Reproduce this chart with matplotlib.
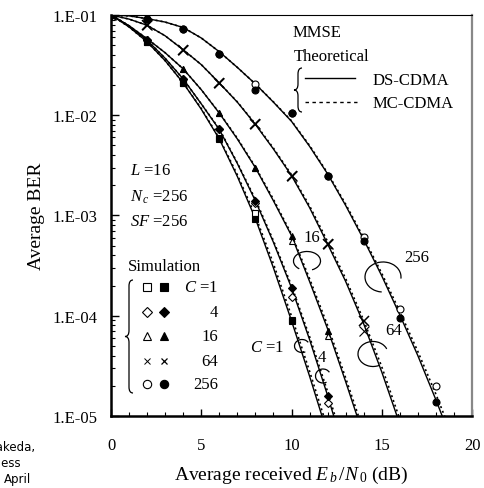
import matplotlib
matplotlib.use('Agg')
import matplotlib.pyplot as plt
from matplotlib.patches import Arc, PathPatch
from matplotlib.path import Path
from matplotlib.lines import Line2D
from matplotlib.ticker import MultipleLocator, LogLocator, NullFormatter

plt.rcParams['font.family'] = ['Liberation Serif', 'DejaVu Serif']
plt.rcParams['mathtext.fontset'] = 'custom'
plt.rcParams['mathtext.rm'] = 'Liberation Serif'
plt.rcParams['mathtext.it'] = 'Liberation Serif:italic'

# ---- data ----
users = [1, 4, 16, 64, 256]

# theoretical curves, Eb/N0 = 0, 1, 2, ... dB
ds_c1 = [1.0e-1, 7.6e-2, 5.4e-2, 3.5e-2, 2.1e-2, 1.15e-2, 5.8e-3, 2.45e-3, 9.3e-4, 3.0e-4, 8.9e-5, 2.5e-5, 6.6e-6]
ds_c4 = [1.0e-1, 7.8e-2, 5.6e-2, 3.7e-2, 2.3e-2, 1.3e-2, 7.2e-3, 3.3e-3, 1.4e-3, 5.4e-4, 1.9e-4, 5.8e-5, 1.6e-5, 4.0e-6]
ds_c16 = [1.0e-1, 7.8e-2, 5.8e-2, 4.2e-2, 2.9e-2, 1.8e-2, 1.05e-2, 5.8e-3, 3.0e-3, 1.4e-3, 6.3e-4, 2.2e-4, 7.4e-5, 2.2e-5, 6.3e-6]
ds_c64 = [1.0e-1, 9.1e-2, 7.9e-2, 6.2e-2, 4.5e-2, 3.2e-2, 2.1e-2, 1.35e-2, 8.1e-3, 4.6e-3, 2.5e-3, 1.2e-3, 5.2e-4, 2.2e-4, 8.3e-5, 2.75e-5, 8.3e-6]
ds_c256 = [1.0e-1, 9.8e-2, 9.2e-2, 8.5e-2, 7.5e-2, 5.9e-2, 4.3e-2, 3.0e-2, 2.05e-2, 1.35e-2, 8.7e-3, 4.9e-3, 2.6e-3, 1.26e-3, 5.75e-4, 2.5e-4, 1.02e-4, 4.0e-5, 1.45e-5, 5.0e-6]

mc_c1 = [1.0e-1, 7.6e-2, 5.4e-2, 3.5e-2, 2.1e-2, 1.17e-2, 5.9e-3, 2.55e-3, 9.9e-4, 3.3e-4, 9.9e-5, 2.8e-5, 7.5e-6]
mc_c4 = [1.0e-1, 7.8e-2, 5.6e-2, 3.7e-2, 2.3e-2, 1.3e-2, 7.3e-3, 3.35e-3, 1.45e-3, 5.6e-4, 2.0e-4, 6.2e-5, 1.75e-5, 4.5e-6]
mc_c16 = [1.0e-1, 7.8e-2, 5.8e-2, 4.2e-2, 2.9e-2, 1.8e-2, 1.06e-2, 5.9e-3, 3.05e-3, 1.45e-3, 6.5e-4, 2.35e-4, 8.0e-5, 2.4e-5, 7.0e-6]
mc_c64 = [1.0e-1, 9.1e-2, 7.9e-2, 6.2e-2, 4.5e-2, 3.2e-2, 2.1e-2, 1.36e-2, 8.2e-3, 4.7e-3, 2.55e-3, 1.25e-3, 5.5e-4, 2.35e-4, 9.0e-5, 3.1e-5, 9.3e-6]
mc_c256 = [1.0e-1, 9.8e-2, 9.2e-2, 8.5e-2, 7.5e-2, 5.9e-2, 4.3e-2, 3.0e-2, 2.05e-2, 1.36e-2, 8.8e-3, 5.0e-3, 2.65e-3, 1.3e-3, 6.0e-4, 2.65e-4, 1.1e-4, 4.4e-5, 1.65e-5, 5.8e-6]

# simulation, Eb/N0 = 0, 2, 4, ... dB  (filled = DS-CDMA, open = MC-CDMA)
sim_ds_c1 = [1.0e-1, 5.4e-2, 2.1e-2, 5.8e-3, 9.3e-4, 8.9e-5]
sim_mc_c1 = [1.0e-1, 5.4e-2, 2.1e-2, 5.9e-3, 1.05e-3, 9.0e-5]
sim_ds_c4 = [1.0e-1, 5.6e-2, 2.3e-2, 7.3e-3, 1.4e-3, 1.9e-4, 1.6e-5]
sim_mc_c4 = [1.0e-1, 5.6e-2, 2.3e-2, 7.3e-3, 1.34e-3, 1.55e-4, 1.35e-5]
sim_ds_c16 = [1.0e-1, 5.8e-2, 2.9e-2, 1.05e-2, 3.0e-3, 6.3e-4, 7.1e-5]
sim_mc_c16 = [1.0e-1, 5.8e-2, 2.9e-2, 1.05e-2, 3.0e-3, 5.6e-4, 6.3e-5]
sim_ds_c64 = [1.0e-1, 7.9e-2, 4.5e-2, 2.1e-2, 8.2e-3, 2.5e-3, 5.2e-4, 8.9e-5]
sim_mc_c64 = [1.0e-1, 7.9e-2, 4.5e-2, 2.1e-2, 8.2e-3, 2.5e-3, 5.2e-4, 7.1e-5]
sim_ds_c256 = [1.0e-1, 9.2e-2, 7.2e-2, 4.1e-2, 1.8e-2, 1.05e-2, 2.5e-3, 5.6e-4, 9.5e-5, 1.38e-5]
sim_mc_c256 = [1.0e-1, 9.2e-2, 7.2e-2, 4.1e-2, 2.05e-2, 1.05e-2, 2.5e-3, 6.1e-4, 1.17e-4, 2.0e-5]

ds_curves = [ds_c1, ds_c4, ds_c16, ds_c64, ds_c256]
mc_curves = [mc_c1, mc_c4, mc_c16, mc_c64, mc_c256]
sim_ds = [sim_ds_c1, sim_ds_c4, sim_ds_c16, sim_ds_c64, sim_ds_c256]
sim_mc = [sim_mc_c1, sim_mc_c4, sim_mc_c16, sim_mc_c64, sim_mc_c256]
markers = ['s', 'D', '^', 'x', 'o']
msizes = [4.5, 4.0, 5.0, 6.5, 5.0]

yticks = [1e-5, 1e-4, 1e-3, 1e-2, 1e-1]
ytick_labels = ['1.E-05', '1.E-04', '1.E-03', '1.E-02', '1.E-01']
xticks = [0, 5, 10, 15, 20]

W, H = 484, 489
fig = plt.figure(figsize=(W / 100, H / 100), dpi=100)
ax = fig.add_axes([111 / W, 1 - 417 / H, (472 - 111) / W, (417 - 16) / H])


def fx(px):
    return px / W


def fy(py):
    return 1 - py / H


# theoretical curves
for ds, mc in zip(ds_curves, mc_curves):
    ax.plot(range(len(ds)), ds, color='black', lw=1.0, zorder=3)
    ax.plot(range(len(mc)), mc, color='black', lw=1.2, ls=(0, (1.2, 1.8)), zorder=3)

# simulation points
for ds, mc, m, ms in zip(sim_ds, sim_mc, markers, msizes):
    snr = [2 * i for i in range(len(ds))]
    if m == 'x':
        ax.plot(snr, mc, ls='none', marker='x', ms=ms, mec='black', mew=0.8, zorder=4)
        ax.plot(snr, ds, ls='none', marker='x', ms=ms, mec='black', mew=1.1, zorder=4)
    else:
        ax.plot(snr, mc, ls='none', marker=m, ms=ms, mfc='white', mec='black', mew=0.8, zorder=4)
        ax.plot(snr, ds, ls='none', marker=m, ms=ms, mfc='black', mec='black', mew=0.8, zorder=5)

ax.set_yscale('log')
ax.set_xlim(0, 20)
ax.set_ylim(1e-5, 1e-1)
ax.set_xticks(xticks)
ax.set_xticklabels([str(t) for t in xticks])
ax.xaxis.set_minor_locator(MultipleLocator(1))
ax.set_yticks(yticks)
ax.set_yticklabels(ytick_labels)
ax.yaxis.set_minor_locator(LogLocator(base=10, subs=range(2, 10)))
ax.yaxis.set_minor_formatter(NullFormatter())
ax.tick_params(which='both', direction='in', top=False, right=False, labelsize=12)
ax.tick_params(axis='x', which='major', length=5, width=1, pad=15)
ax.tick_params(axis='x', which='minor', length=3, width=0.8)
ax.tick_params(axis='y', which='major', length=6, width=1, pad=10)
ax.tick_params(axis='y', which='minor', length=3, width=0.8)
ax.spines['left'].set_linewidth(1.8)
ax.spines['bottom'].set_linewidth(1.8)
ax.spines['top'].set_linewidth(0.8)
ax.spines['right'].set_linewidth(1.6)
ax.spines['right'].set_color('#888888')

ax.set_xlabel(r'Average received $E_{\,b}\,/N_{\,0}$ (dB)', fontsize=14, labelpad=8)
ax.set_ylabel('Average BER', fontsize=14, labelpad=5)


def brace(x, y0, y1, w):
    ym = (y0 + y1) / 2
    d = min(6, (y1 - y0) / 6)
    pts = [(x + w, y0), (x + w / 2, y0), (x + w / 2, y0 + d),
           (x + w / 2, ym - d), (x + w / 2, ym), (x, ym),
           (x + w / 2, ym), (x + w / 2, ym + d),
           (x + w / 2, y1 - d), (x + w / 2, y1), (x + w, y1)]
    codes = [Path.MOVETO, Path.CURVE3, Path.CURVE3, Path.LINETO, Path.CURVE3, Path.CURVE3,
             Path.CURVE3, Path.CURVE3, Path.LINETO, Path.CURVE3, Path.CURVE3]
    path = Path([(fx(a), fy(b)) for a, b in pts], codes)
    fig.add_artist(PathPatch(path, fc='none', ec='black', lw=0.9, transform=fig.transFigure))


# theoretical legend
fig.text(fx(293), fy(33), 'MMSE', fontsize=12, va='center')
fig.text(fx(294), fy(57), 'Theoretical', fontsize=12, va='center')
brace(294, 69, 113, 8)
fig.add_artist(Line2D([fx(305), fx(355)], [fy(79), fy(79)], color='black', lw=1.0, transform=fig.transFigure))
fig.add_artist(Line2D([fx(305), fx(357)], [fy(103), fy(103)], color='black', lw=1.0, ls=(0, (2.5, 2.5)),
                      transform=fig.transFigure))
fig.text(fx(373), fy(81), 'DS-CDMA', fontsize=12, va='center')
fig.text(fx(373), fy(104), 'MC-CDMA', fontsize=12, va='center')

# parameters
fig.text(fx(130), fy(171), r'$L$ =16', fontsize=12, va='center')
fig.text(fx(130), fy(197), r'$N_{\,c}$ =256', fontsize=12, va='center')
fig.text(fx(130), fy(222), r'$SF$ =256', fontsize=12, va='center')

# simulation legend
fig.text(fx(128), fy(267), 'Simulation', fontsize=12, va='center')
brace(125, 281, 394, 8)
row_y = [288, 313, 337, 362, 385]
row_lbl = [r'$C$ =1', '4', '16', '64', '256']
for m, ms, yy, lbl in zip(markers, msizes, row_y, row_lbl):
    if m == 'x':
        fig.add_artist(Line2D([fx(147)], [fy(yy)], marker='x', ms=ms - 1.5, mec='black', mew=0.7, ls='none',
                              transform=fig.transFigure))
        fig.add_artist(Line2D([fx(164)], [fy(yy)], marker='x', ms=ms - 1.5, mec='black', mew=0.9, ls='none',
                              transform=fig.transFigure))
    else:
        fig.add_artist(Line2D([fx(147)], [fy(yy)], marker=m, ms=ms + 1, mfc='white', mec='black', mew=0.8,
                              ls='none', transform=fig.transFigure))
        fig.add_artist(Line2D([fx(164)], [fy(yy)], marker=m, ms=ms + 1, mfc='black', mec='black', mew=0.8,
                              ls='none', transform=fig.transFigure))
    fig.text(fx(218), fy(yy), lbl, fontsize=12, va='center', ha='right')

# curve annotations
arcs = [(383, 278, 36, 30, -5, 265, '256', 404, 258, 'left'),
        (373, 355, 30, 25, 20, 300, '64', 385, 331, 'left'),
        (307, 262, 27, 19, -60, 225, '16', 303, 238, 'left'),
        (302, 347, 15, 13, 30, 300, r'$C$ =1', 284, 348, 'right'),
        (323, 377, 15, 14, 30, 300, '4', 318, 358, 'left')]
for cx, cy, w, h, t1, t2, lbl, tx, ty, ha in arcs:
    fig.add_artist(Arc((fx(cx), fy(cy)), w / W, h / H, theta1=t1, theta2=t2, color='black', lw=0.9,
                       transform=fig.transFigure))
    fig.text(fx(tx), fy(ty), lbl, fontsize=12, va='center', ha=ha)

# clipped caption text at the left edge
fig.text(fx(35), fy(448), 'T. Takeda,', fontsize=8.5, family='DejaVu Sans', ha='right', va='center')
fig.text(fx(21), fy(464), 'Wireless', fontsize=8.5, family='DejaVu Sans', ha='right', va='center')
fig.text(fx(31), fy(480), 'April', fontsize=8.5, family='DejaVu Sans', ha='right', va='center')

fig.savefig('out.png', dpi=100)
